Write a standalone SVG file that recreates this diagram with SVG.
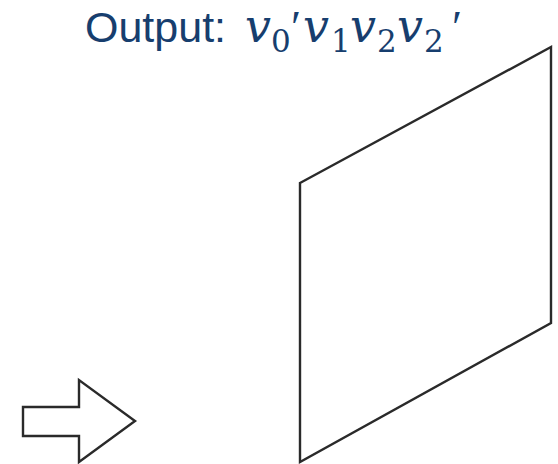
<svg xmlns="http://www.w3.org/2000/svg" width="558" height="464" viewBox="0 0 558 464">
<style>
.t{fill:#173e6e;font-family:"Liberation Sans",Arial,sans-serif;font-size:43px}
.m{font-family:"DejaVu Serif","Liberation Serif",serif;font-style:italic;font-size:46px}
.s{font-family:"DejaVu Serif","Liberation Serif",serif;font-size:31px}
.p{font-family:"Liberation Serif",serif;font-size:46px}
.sh{fill:#fff;stroke:#2a2a2a;stroke-width:2.4;stroke-linejoin:miter}
</style>
<rect width="558" height="464" fill="#fff"/>
<g id="title">
<text class="t" y="42"><tspan x="85">Output:</tspan><tspan class="m" x="245">v</tspan><tspan class="s" x="271" y="52">0</tspan><tspan class="p" x="291" y="43">′</tspan><tspan class="m" x="303" y="42">v</tspan><tspan class="s" x="331" y="52">1</tspan><tspan class="m" x="350" y="42">v</tspan><tspan class="s" x="377" y="52">2</tspan><tspan class="m" x="397" y="42">v</tspan><tspan class="s" x="424" y="52">2</tspan><tspan class="p" x="452" y="43">′</tspan></text>
</g>
<g id="arrow">
<polygon class="sh" points="23,407 79,407 79,380 135,421 79,462 79,436 23,436"/>
</g>
<g id="plane">
<polygon class="sh" points="300,183 551,47 551,323 300,462"/>
</g>
<g id="connectors"></g>
</svg>
